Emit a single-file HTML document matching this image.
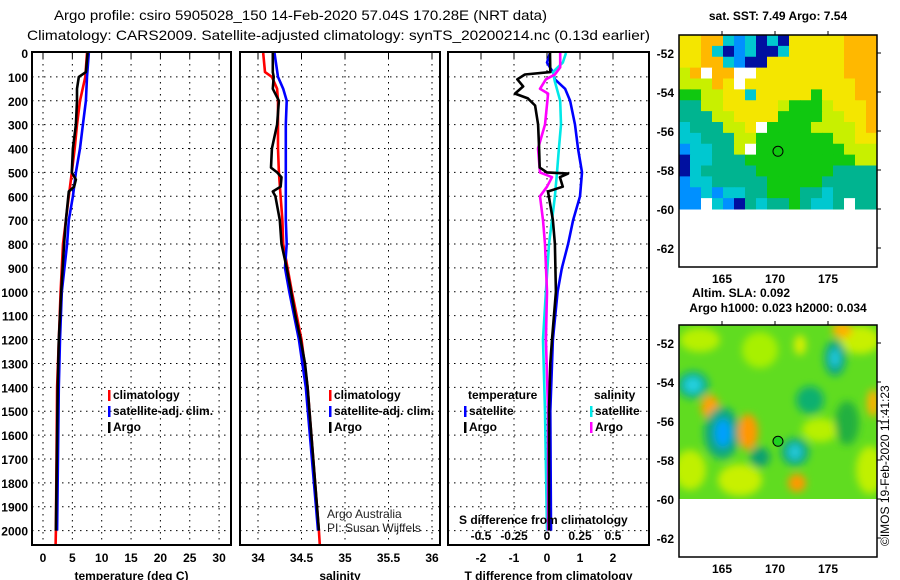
<!DOCTYPE html>
<html><head><meta charset="utf-8">
<style>
html,body{margin:0;padding:0;background:#fff;}
svg{display:block;font-family:"Liberation Sans",sans-serif;}
.t{font-weight:bold;font-size:12px;fill:#000;}
.ttl{font-size:14px;fill:#000;}
</style></head>
<body>
<svg id="svg" width="900" height="580" viewBox="0 0 900 580" xmlns="http://www.w3.org/2000/svg">
<defs>
<clipPath id="c1"><rect x="32" y="52" width="199" height="493"/></clipPath>
<clipPath id="c2"><rect x="240" y="52" width="200" height="493"/></clipPath>
<clipPath id="c3"><rect x="448" y="52" width="201" height="493"/></clipPath>
<clipPath id="cm2"><rect x="679" y="325" width="198" height="174"/></clipPath>
<filter id="blur" x="-20%" y="-20%" width="140%" height="140%"><feGaussianBlur stdDeviation="4"/></filter>
</defs>
<text class="ttl" x="54" y="20" textLength="493" lengthAdjust="spacingAndGlyphs">Argo profile: csiro 5905028_150 14-Feb-2020 57.04S 170.28E (NRT data)</text>
<text class="ttl" x="27" y="40" textLength="623" lengthAdjust="spacingAndGlyphs">Climatology: CARS2009. Satellite-adjusted climatology: synTS_20200214.nc (0.13d earlier)</text>
<g id="grids"></g>
<g id="series"></g>
<g id="axes"></g>
<g id="maps"></g>
</svg>
<script>
// ---------- data (depth in dbar) ----------
const tempDepth   = [0,80,100,150,200,300,400,500,530,560,580,700,800,1000,1200,1400,2000];
const tempArgo    = [7.6,7.3,6.1,5.8,5.8,5.6,5.1,4.9,5.6,5.3,4.4,3.9,3.6,3.1,2.7,2.5,2.2];
const climDepth   = [0,100,200,300,400,500,600,700,800,1000,1400,2000,2060];
const tempClim    = [7.5,7.2,6.3,5.8,5.4,4.9,4.4,3.9,3.4,3.0,2.4,2.2,2.15];
const satDepth    = [0,100,200,300,400,500,600,700,800,1000,1200,1400,2000];
const tempSat     = [7.8,7.5,7.3,6.8,6.3,5.6,5.1,4.4,4.1,3.2,2.9,2.7,2.4];

const salArgoDepth= [0,80,100,150,200,300,400,480,500,520,560,580,600,700,800,900,1000,1100,1200,1300,1400,2000];
const salArgo     = [34.17,34.17,34.18,34.17,34.24,34.22,34.16,34.15,34.22,34.27,34.26,34.17,34.2,34.25,34.27,34.33,34.38,34.43,34.49,34.54,34.57,34.7];
const salClimDepth= [0,80,100,150,200,300,400,500,600,700,800,1000,1200,1400,2000,2060];
const salClim     = [34.06,34.08,34.16,34.22,34.23,34.23,34.23,34.24,34.26,34.28,34.29,34.39,34.5,34.57,34.7,34.71];
const salSatDepth = [0,100,150,200,300,500,700,800,900,1000,1200,1400,2000];
const salSat      = [34.19,34.23,34.29,34.33,34.32,34.32,34.32,34.33,34.31,34.36,34.47,34.55,34.69];

const dTArgoDepth = [0,80,90,110,140,170,190,220,300,400,480,500,505,520,560,580,700,800,1000,1200,1300,1500,2000];
const dTArgo      = [0.09,0.1,-0.67,-0.9,-0.72,-0.97,-0.58,-0.36,-0.27,-0.24,-0.22,0,0.64,0.39,0.48,0.03,0.18,0.24,0.27,0.15,0.1,0.06,0.06];
const dTSatDepth  = [0,40,80,110,150,200,300,400,500,600,700,800,900,1000,1200,1500,2000];
const dTSat       = [0.09,0,0.18,0.24,0.55,0.7,0.85,0.94,1.06,1.0,0.79,0.64,0.45,0.32,0.18,0.1,0.12];
const dSSatDepth  = [0,40,80,120,200,300,400,500,600,700,800,1000,1200,1500,2000];
const dSSat       = [0.144,0.12,0.045,0.06,0.1,0.106,0.09,0.076,0.06,0.038,0.015,-0.008,-0.03,-0.015,0];
const dSArgoDepth = [0,60,90,110,150,170,300,400,500,520,560,600,700,800,1000,1200,1500,2000];
const dSArgo      = [0.1,0.1,0.06,-0.008,-0.053,0.008,-0.015,-0.068,-0.053,0.038,0,-0.053,-0.03,-0.015,0,-0.008,0.008,0.008];

const depthTicks  = [0,100,200,300,400,500,600,700,800,900,1000,1100,1200,1300,1400,1500,1600,1700,1800,1900,2000];
const tempTicks   = [0,5,10,15,20,25,30];
const salTicks    = [34,34.5,35,35.5,36];
const salTickLabels = ["34","34.5","35","35.5","36"];
const dTTicks     = [-2,-1,0,1,2];
const dSTicks     = [-0.5,-0.25,0,0.25,0.5];
const dSTickLabels= ["-0.5","-0.25","0","0.25","0.5"];
const lonTicks    = [165,170,175];
const latTicks    = [-52,-54,-56,-58,-60,-62];
const argoLon = 170.28, argoLat = -57.04;

// ---------- scales ----------
const yD  = d => 53 + d*0.2388;
const xT  = t => 43 + t*5.87;
const xS  = s => 258 + (s-34)*87;
const xDT = v => 547 + v*33;
const xDS = v => 547 + v*132;
const mX  = lon => 722 + (lon-165)*10.6;
const mY1 = lat => 53 + (-52-lat)*19.5;
const mY2 = lat => 343 + (-52-lat)*19.5;

const NS="http://www.w3.org/2000/svg";
function mk(tag, attrs, parent){const e=document.createElementNS(NS,tag);for(const k in attrs)e.setAttribute(k,attrs[k]);parent.appendChild(e);return e;}
const G=document.getElementById('grids'), S=document.getElementById('series'), A=document.getElementById('axes'), M=document.getElementById('maps');

const panels=[{x:32,w:199,xs:xT,ticks:tempTicks,labels:tempTicks.map(String),title:"temperature (deg C)",clip:"c1",name:"temperature-panel"},
 {x:240,w:200,xs:xS,ticks:salTicks,labels:salTickLabels,title:"salinity",clip:"c2",name:"salinity-panel"},
 {x:448,w:201,xs:xDT,ticks:dTTicks,labels:dTTicks.map(String),title:"T difference from climatology",clip:"c3",name:"difference-panel"}];

panels.forEach(p=>{
  const g=mk('g',{},G);
  
  
  depthTicks.forEach(d=>{ if(d>0){const l=mk('line',{x1:p.x,x2:p.x+p.w,y1:yD(d),y2:yD(d),stroke:'#000','stroke-width':1,'stroke-dasharray':'1.5,4.5'},g);
     }});
  p.ticks.forEach((t,i)=>{const x=p.xs(t);
    const l=mk('line',{x1:x,x2:x,y1:52,y2:545,stroke:'#000','stroke-width':1,'stroke-dasharray':'1.5,4.5'},g);
     
    const tk=mk('line',{x1:x,x2:x,y1:52,y2:58,stroke:'#000','stroke-width':1},A);
     
    const tx=mk('text',{x:x,y:562,'text-anchor':'middle',class:'t'},A); tx.textContent=p.labels[i];
     });
  const r=mk('rect',{x:p.x,y:52,width:p.w,height:493,fill:'none',stroke:'#000','stroke-width':2},A);
   
  const at=mk('text',{x:p.x+p.w/2,y:580,'text-anchor':'middle',class:'t'},A); at.textContent=p.title;
   
});
depthTicks.forEach(d=>{const t=mk('text',{x:28,y:yD(d)+5,'text-anchor':'end',class:'t'},A);t.textContent=String(d);
   });

function line(depths, vals, xs, color, clip, name){
  const pts=depths.map((d,i)=>xs(vals[i]).toFixed(1)+','+yD(d).toFixed(1)).join(' ');
  const pl=mk('polyline',{points:pts,fill:'none',stroke:color,'stroke-width':2.6,'stroke-linejoin':'round','clip-path':'url(#'+clip+')'},S);
  
  
}
line(climDepth,tempClim,xT,'#ff0000','c1','temp-climatology-line');
line(satDepth,tempSat,xT,'#0000ff','c1','temp-satellite-line');
line(tempDepth,tempArgo,xT,'#000','c1','temp-argo-line');
line(salClimDepth,salClim,xS,'#ff0000','c2','sal-climatology-line');
line(salSatDepth,salSat,xS,'#0000ff','c2','sal-satellite-line');
line(salArgoDepth,salArgo,xS,'#000','c2','sal-argo-line');
line(dTSatDepth,dTSat,xDT,'#0000ff','c3','tdiff-satellite-line');
line(dSSatDepth,dSSat,xDS,'#00e8e8','c3','sdiff-satellite-line');
line(dSArgoDepth,dSArgo,xDS,'#ff00ff','c3','sdiff-argo-line');
line(dTArgoDepth,dTArgo,xDT,'#000','c3','tdiff-argo-line');

dSTicks.forEach((v,i)=>{const t=mk('text',{x:xDS(v),y:540,'text-anchor':'middle',class:'t'},A);t.textContent=dSTickLabels[i];
   });
{const t=mk('text',{x:459,y:524,class:'t'},A);t.textContent='S difference from climatology';
  }

function leg(x,y,color,label,name){
  const r=mk('rect',{x:x-4,y:y-9,width:2.5,height:11,fill:color},A);
   
  const t=mk('text',{x:x+1,y:y,class:'t'},A); t.textContent=label;
   
}
leg(112,399,'#ff0000','climatology','legend-climatology');
leg(112,415,'#0000ff','satellite-adj. clim.','legend-satellite-adj');
leg(112,431,'#000','Argo','legend-argo');
leg(333,399,'#ff0000','climatology','legend-climatology-2');
leg(333,415,'#0000ff','satellite-adj. clim.','legend-satellite-adj-2');
leg(333,431,'#000','Argo','legend-argo-2');
{const t=mk('text',{x:468,y:399,class:'t'},A);t.textContent='temperature';}
{const t=mk('text',{x:594,y:399,class:'t'},A);t.textContent='salinity';}
leg(468,415,'#0000ff','satellite','legend-t-satellite');
leg(468,431,'#000','Argo','legend-t-argo');
leg(594,415,'#00e8e8','satellite','legend-s-satellite');
leg(594,431,'#ff00ff','Argo','legend-s-argo');
{const t=mk('text',{x:327,y:518,'font-size':'12',fill:'#222'},A);t.textContent='Argo Australia';}
{const t=mk('text',{x:327,y:532,'font-size':'12',fill:'#222'},A);t.textContent='PI: Susan Wijffels';}

// ---------- maps ----------
const sstRows=[
"YYOOCBCNCNYYYYYOOO",
"YYOCNBCNNCYYYYYOOO",
"YYOOCBNNYYYYYYYOOO",
"LOWOOWWYYYYYYYYOOO",
"LLLOYWYYYYYYYYYYOO",
"GGLLYYCYYYYYGYYYOO",
"TTLLYYYYYLGGGLYYYO",
"TTTLLYYYYGGGGLLYYO",
"CTTTLLYWGGGGLLLLYO",
"CCTTTLLGGGGGGGLLYY",
"BCCTTLWGGGGGGGGLLL",
"NCCTTTGGGGGGGGGGLL",
"NCTTTTTGGGGGGGTTTT",
"BCCTTTTTGGGGGTTTTT",
"BBCBCCTTGGGTTCTTTT",
"BBWCBNTCTTGTCCTWTT"];
const pal={O:'#ffb800',Y:'#f4e600',L:'#c8f000',G:'#10c810',T:'#00b490',C:'#00c8d0',B:'#0090ff',N:'#0010a0',W:'#ffffff'};
const cw=198/18, ch=174/16;
const sg=mk('g',{},M);  
sstRows.forEach((row,r)=>{[...row].forEach((c,i)=>{mk('rect',{x:(679+i*cw).toFixed(2),y:(35+r*ch).toFixed(2),width:(cw+0.5).toFixed(2),height:(ch+0.5).toFixed(2),fill:pal[c]},sg);});});

const sl=mk('g',{'clip-path':'url(#cm2)'},M);  
mk('rect',{x:679,y:325,width:198,height:174,fill:'#60dc20'},sl);
const bl=mk('g',{filter:'url(#blur)'},sl);
const blobs=[
[700,340,20,12,'#b8f000'],[760,350,18,18,'#a8f000'],[860,340,20,14,'#c8f000'],[842,330,10,8,'#ffb000'],
[690,470,16,20,'#c0f000'],[740,480,22,16,'#c8f000'],[870,470,14,24,'#c0f000'],[820,430,18,12,'#b8f000'],
[693,385,16,14,'#10b080'],[693,385,9,8,'#20d0e0'],
[710,407,9,12,'#ffa000'],
[722,433,18,26,'#10a880'],[723,433,8,14,'#00a0ff'],
[748,432,10,18,'#ff9800'],
[760,457,10,10,'#10a070'],
[795,452,14,14,'#10a880'],[795,452,7,8,'#20c8d8'],
[797,483,9,9,'#ff9800'],
[835,358,11,18,'#10a880'],[835,358,5,9,'#20c8e0'],
[810,400,14,14,'#10b070'],[847,423,12,22,'#20b040'],
[873,403,6,14,'#ffb000'],[800,345,6,10,'#d8f000']];
blobs.forEach(b=>{mk('ellipse',{cx:b[0],cy:b[1],rx:b[2],ry:b[3],fill:b[4]},bl);});

[[35,mY1,'sst-map'],[325,mY2,'sla-map']].forEach(([top,ym,nm])=>{
  const fr=mk('rect',{x:679,y:top,width:198,height:232,fill:'none',stroke:'#000','stroke-width':1.5},M);
   
  latTicks.forEach(lat=>{const y=ym(lat);
    mk('line',{x1:877,x2:881,y1:y,y2:y,stroke:'#000','stroke-width':1},M);
    const t=mk('text',{x:674,y:y+5,'text-anchor':'end',class:'t'},M); t.textContent=String(lat);
     });
  lonTicks.forEach(lon=>{const x=mX(lon);
    mk('line',{x1:x,x2:x,y1:top-4,y2:top,stroke:'#000','stroke-width':1},M);
    const t=mk('text',{x:x,y:top+248,'text-anchor':'middle',class:'t'},M); t.textContent=String(lon);
     });
});
{const c=mk('circle',{cx:mX(argoLon),cy:mY1(argoLat),r:5,fill:'none',stroke:'#000','stroke-width':1},M);}
{const c=mk('circle',{cx:mX(argoLon),cy:mY2(argoLat),r:5,fill:'#20d020',stroke:'#000','stroke-width':1},M);}
[['sat. SST: 7.49 Argo: 7.54',20,'sst-map-title'],['Altim. SLA: 0.092',297,'sla-map-title'],['Argo h1000: 0.023 h2000: 0.034',312,'sla-argo-title']].forEach(([s,y,n])=>{
  const t=mk('text',{x:n==='sla-map-title'?741:778,y:y,'text-anchor':'middle',class:'t'},M); t.textContent=s;
   });
{const t=mk('text',{x:0,y:0,'font-size':'12',fill:'#000',transform:'translate(889,546) rotate(-90)'},M);t.textContent='©IMOS 19-Feb-2020 11:41:23';
  }
</script>
</body></html>
